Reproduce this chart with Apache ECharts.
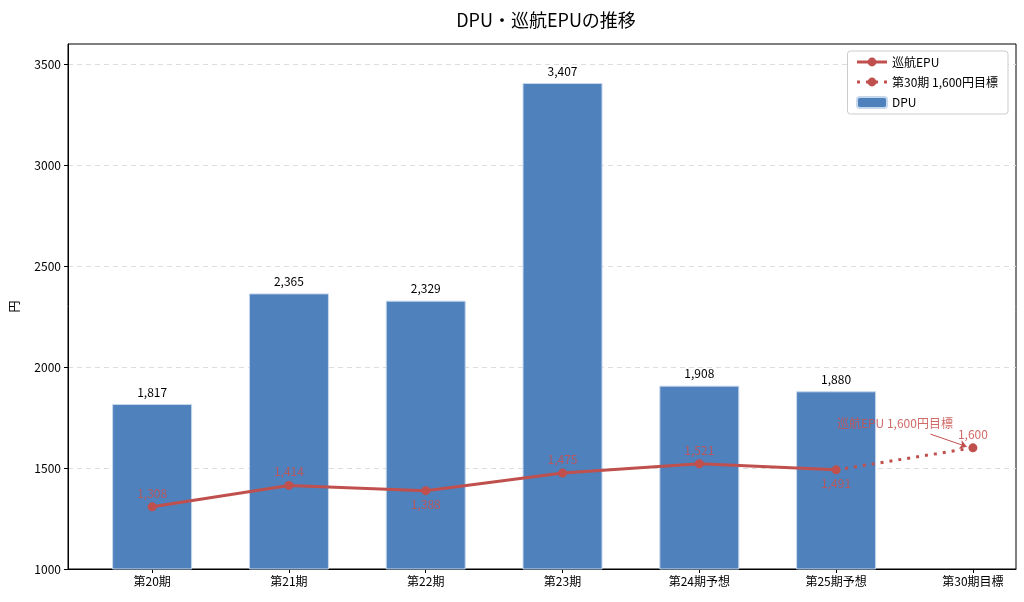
<!DOCTYPE html>
<html><head><meta charset="utf-8">
<script src="https://cdn.jsdelivr.net/npm/echarts@6/dist/echarts.min.js"></script>
<style>html,body{margin:0;padding:0;background:#fff}#c{width:1024px;height:602px}</style>
</head><body><div id="c"></div>
<script>
const categories = ['第20期','第21期','第22期','第23期','第24期予想','第25期予想','第30期目標'];
const dpu = [1817, 2365, 2329, 3407, 1908, 1880];
const epu = [1308, 1414, 1388, 1475, 1521, 1491];
const epuLabelPos = ['top','top','bottom','top','top','bottom'];
const target = [1491, 1600];
const targetIdx = [5, 6];
const yTicks = [1000, 1500, 2000, 2500, 3000, 3500];

const fmt = v => v.toLocaleString('en-US');
const font = '"Noto Sans CJK JP", "Noto Sans", sans-serif';
const red = '#c0504d';
const redTxt = 'rgba(200,80,77,0.85)';

const chart = echarts.init(document.getElementById('c'));
chart.setOption({
  animation: false,
  textStyle: {fontFamily: font},
  title: {text: 'DPU・巡航EPUの推移', left: 541, top: 6, textAlign: 'center',
    textStyle: {fontFamily: font, fontSize: 18, fontWeight: 'normal', color: '#000'}},
  legend: {
    orient: 'vertical', right: 16, top: 51, padding: [5, 10, 5, 8], itemGap: 8,
    itemWidth: 30, itemHeight: 11,
    lineStyle: {width: 3},
    borderColor: '#ccc', borderWidth: 1, borderRadius: 3, backgroundColor: '#fff',
    textStyle: {fontFamily: font, fontSize: 12, color: '#000'},
    data: ['巡航EPU', '第30期 1,600円目標', 'DPU']
  },
  grid: {left: 66, right: 8, top: 44, bottom: 33, show: true, borderColor: '#000', borderWidth: 1, backgroundColor: 'transparent'},
  xAxis: {
    type: 'value', min: -0.615, max: 6.315,
    axisLine: {show: true, onZero: false, lineStyle: {color: '#000'}},
    axisTick: {show: true, customValues: categories.map((c, i) => i), length: 4, lineStyle: {color: '#000'}},
    axisLabel: {customValues: categories.map((c, i) => i), formatter: v => categories[Math.round(v)] || '',
      color: '#000', fontSize: 12, fontFamily: font, margin: 6},
    splitLine: {show: false}
  },
  yAxis: {
    type: 'value', min: 1000, max: 3600, name: '円', nameLocation: 'middle', nameGap: 48,
    nameRotate: 90, nameTextStyle: {fontFamily: font, fontSize: 12, color: '#000'},
    axisLine: {show: true, onZero: false, lineStyle: {color: '#000'}},
    axisTick: {show: true, customValues: yTicks, length: 4, lineStyle: {color: '#000'}},
    axisLabel: {customValues: yTicks, formatter: v => String(v), color: '#000', fontSize: 12, fontFamily: font, margin: 7},
    splitLine: {show: true, lineStyle: {color: '#dddddd', type: [5, 4], width: 1}}
  },
  series: [
    {
      name: 'DPU', type: 'bar', barWidth: 80, z: 1,
      data: dpu.map((v, i) => [i, v]),
      itemStyle: {color: '#4f81bd', borderColor: '#c8d8ec', borderWidth: 1},
      label: {show: true, position: 'top', distance: 6, formatter: p => fmt(p.value[1]),
        color: '#000', fontSize: 12, fontFamily: font}
    },
    {
      name: '巡航EPU', type: 'line', z: 5,
      data: epu.map((v, i) => ({value: [i, v], label: {position: epuLabelPos[i]}})),
      symbol: 'circle', symbolSize: 9,
      lineStyle: {color: red, width: 3}, itemStyle: {color: red},
      label: {show: true, distance: 3, formatter: p => fmt(p.value[1]), color: redTxt, fontSize: 12, fontFamily: font}
    },
    {
      name: '第30期 1,600円目標', type: 'line', z: 4,
      data: target.map((v, i) => ({value: [targetIdx[i], v], symbolSize: i === 0 ? 0 : 9,
        label: {show: i === 1}})),
      symbol: 'circle', symbolSize: 9,
      lineStyle: {color: red, width: 3, type: [3, 6]}, itemStyle: {color: red},
      label: {position: 'top', distance: 3, formatter: p => fmt(p.value[1]), color: redTxt, fontSize: 12, fontFamily: font},
      markLine: {
        silent: true, symbol: ['none', 'arrow'], symbolSize: 7,
        lineStyle: {color: red, width: 1, type: 'solid'},
        label: {show: false},
        data: [[{coord: [5.69, 1668]}, {coord: [5.955, 1606]}]]
      },
      markPoint: {
        silent: true, symbol: 'circle', symbolSize: 1, itemStyle: {color: 'rgba(0,0,0,0)'},
        label: {show: true, position: 'inside', formatter: '巡航EPU 1,600円目標', color: redTxt, fontSize: 12, fontFamily: font},
        data: [{coord: [5.43, 1723]}]
      }
    }
  ]
});
</script></body></html>
